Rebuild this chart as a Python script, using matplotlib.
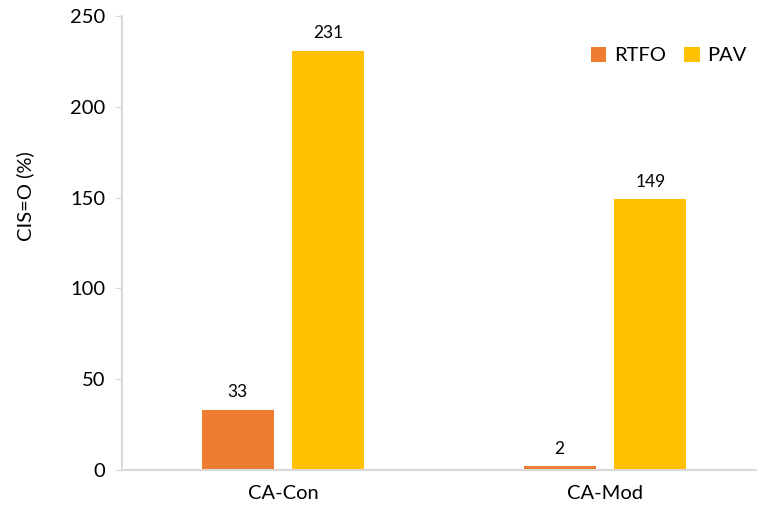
import matplotlib.pyplot as plt
import numpy as np

categories = ['CA-Con', 'CA-Mod']
rtfo = [33, 2]
pav = [231, 149]
series_names = ['RTFO', 'PAV']
colors = ['#ED7D31', '#FFC000']

plt.rcParams['font.family'] = ['Lato', 'DejaVu Sans']

fig = plt.figure(figsize=(7.57, 5.15), dpi=100)
ax = fig.add_axes([122 / 757, 45 / 515, 644 / 757, 454 / 515])

x = np.arange(len(categories))
w = 0.224
off = 0.141
b1 = ax.bar(x - off, rtfo, w, color=colors[0], label=series_names[0])
b2 = ax.bar(x + off, pav, w, color=colors[1], label=series_names[1])

for bars, vals in [(b1, rtfo), (b2, pav)]:
    for b, v in zip(bars, vals):
        ax.annotate(str(v), (b.get_x() + b.get_width() / 2, v),
                    xytext=(0, 7), textcoords='offset points',
                    ha='center', va='bottom', fontsize=12.5)

ax.set_xlim(-0.5, 1.5)
ax.set_ylim(0, 250)
ax.set_yticks([0, 50, 100, 150, 200, 250])
ax.set_xticks(x)
ax.set_xticklabels(categories)
ax.tick_params(axis='y', labelsize=14.5, length=5, color='#d9d9d9', pad=7)
ax.tick_params(axis='x', labelsize=14.5, length=0, pad=11)

for s in ['top', 'right']:
    ax.spines[s].set_visible(False)
for s in ['left', 'bottom']:
    ax.spines[s].set_color('#d9d9d9')
    ax.spines[s].set_linewidth(1.5)

fig.text(25 / 757, 1 - 196 / 515, 'CIS=O (%)', rotation=90,
         ha='center', va='center', fontsize=14.5)

ax.legend(loc='upper right', bbox_to_anchor=((755 - 122) / 644, 1 - 23 / 454),
          bbox_transform=ax.transAxes, ncol=2, frameon=False, fontsize=14.5,
          handlelength=0.75, handleheight=0.75, handletextpad=0.4,
          columnspacing=0.9, borderaxespad=0)

fig.savefig('out.png', dpi=100)
